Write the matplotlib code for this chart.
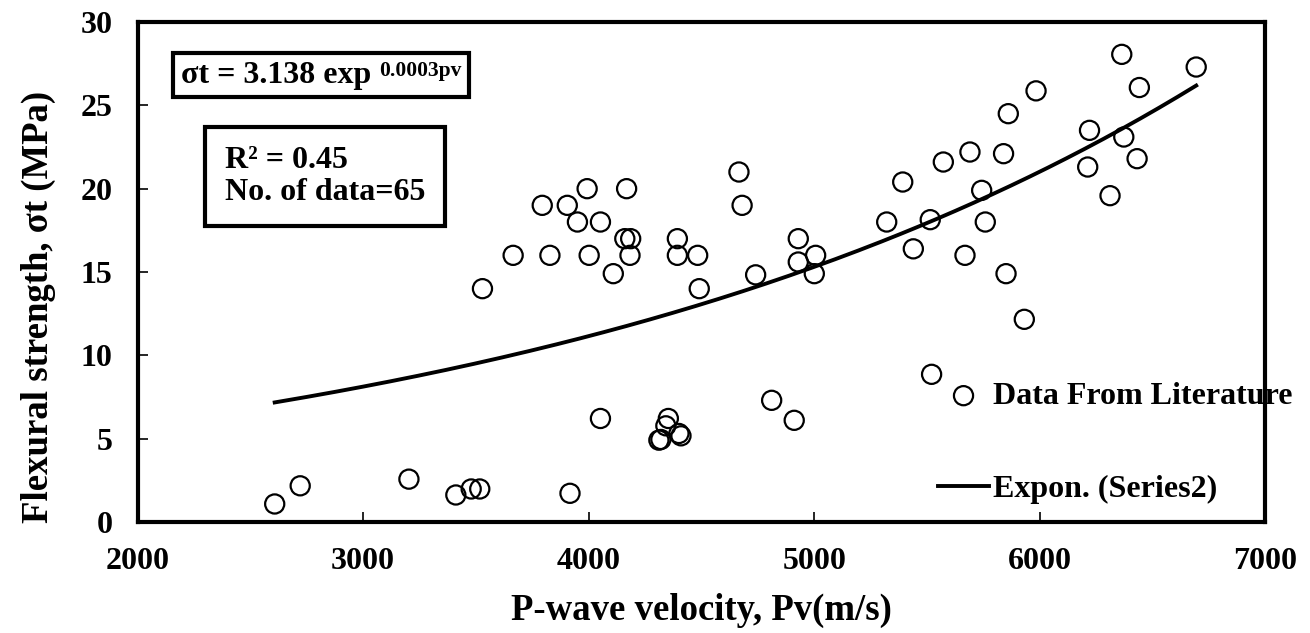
import numpy as np
import matplotlib
matplotlib.use("Agg")
import matplotlib.pyplot as plt
from matplotlib.offsetbox import TextArea, HPacker, AnchoredOffsetbox

# datos
pv = [2608, 2721, 3203, 3411, 3479, 3517, 3529,
      4109, 4490, 4740, 5000, 4052, 4353, 4342, 4400, 4409, 4311, 4320, 4811, 4911, 3917,
      5850, 5931, 5520,
      4666, 4680, 3993, 4168, 3794, 3905, 3950, 4052, 4160, 4186, 4393, 4929,
      3665, 3828, 4002, 4183, 4393, 4483, 5006, 4929, 5321,
      6363, 6693, 6441, 5983, 5860, 6220, 6372, 5690, 5839, 5572, 6431, 6212,
      5392, 5742, 6311, 5514, 5758, 5439, 5668]
sigma_t = [1.08, 2.17, 2.57, 1.62, 1.98, 1.98, 14.0,
           14.9, 14.0, 14.83, 14.9, 6.21, 6.21, 5.77, 5.31, 5.17, 4.91, 4.95, 7.3, 6.1, 1.72,
           14.9, 12.16, 8.86,
           21.0, 19.0, 20.0, 20.0, 19.0, 19.0, 18.0, 18.0, 17.0, 17.0, 17.0, 17.0,
           16.0, 16.0, 16.0, 16.0, 16.0, 16.0, 16.0, 15.6, 18.0,
           28.06, 27.3, 26.07, 25.87, 24.5, 23.5, 23.1, 22.2, 22.1, 21.6, 21.8, 21.3,
           20.4, 19.9, 19.58, 18.14, 18.0, 16.39, 16.0]

x_ticks = [2000, 3000, 4000, 5000, 6000, 7000]
y_ticks = [0, 5, 10, 15, 20, 25, 30]

# coeficientes de la línea de tendencia (σt = a·exp(b·pv))
trend_a = 3.138
trend_b = 0.000317

plt.rcParams['font.family'] = ['Liberation Serif', 'DejaVu Serif']
plt.rcParams['font.weight'] = 'bold'

x = np.array(pv, dtype=float)
y = np.array(sigma_t, dtype=float)

x_fit = np.linspace(x.min(), x.max(), 200)
y_fit = trend_a * np.exp(trend_b * x_fit)

fig = plt.figure(figsize=(13.1, 6.33), dpi=100)
ax = fig.add_axes([0.105, 0.1754, 0.861, 0.7898])

sc = ax.scatter(x, y, s=190, facecolors='none', edgecolors='black', linewidths=1.6,
                label='Data From Literature', zorder=3)
ln, = ax.plot(x_fit, y_fit, color='black', linewidth=2.8, label='Expon. (Series2)', zorder=2)

ax.set_xlim(2000, 7000)
ax.set_ylim(0, 30)
ax.set_xticks(x_ticks)
ax.set_yticks(y_ticks)
ax.tick_params(direction='in', length=7, width=1.2, labelsize=23, pad=18,
               top=False, right=False)
for s in ax.spines.values():
    s.set_linewidth(3)

ax.set_xlabel('P-wave velocity, Pv(m/s)', fontsize=26.5, fontweight='bold', labelpad=12)
ax.set_ylabel('Flexural strength, σt (MPa)', fontsize=26.5, fontweight='bold')
ax.yaxis.set_label_coords(-0.072, 0.43)

# caja con la ecuación
t1 = TextArea('σt = 3.138 exp ', textprops=dict(fontsize=23, fontweight='bold'))
t2 = TextArea('0.0003pv', textprops=dict(fontsize=15.5, fontweight='bold'))
pack = HPacker(children=[t1, t2], align='top', pad=0, sep=0)
eq_box = AnchoredOffsetbox(loc='upper left', child=pack, pad=0.55, borderpad=0,
                           frameon=True, bbox_to_anchor=(0.0315, 0.938),
                           bbox_transform=ax.transAxes, prop=dict(size=10))
eq_box.patch.set_boxstyle('square,pad=0')
eq_box.patch.set_linewidth(3)
ax.add_artist(eq_box)

# caja con R² y número de datos
ax.text(0.0776, 0.691, 'R² = 0.45\nNo. of data=65', transform=ax.transAxes,
        fontsize=23, fontweight='bold', ha='left', va='center', linespacing=1.1,
        bbox=dict(boxstyle='square,pad=0.62', facecolor='white', edgecolor='black', linewidth=3))

leg = ax.legend(handles=[sc, ln], loc='upper left', bbox_to_anchor=(0.716, 0.397),
                bbox_transform=fig.transFigure, frameon=False,
                borderpad=0, borderaxespad=0, handlelength=1.6, handletextpad=0.12,
                labelspacing=2.0, prop=dict(size=23, weight='bold'))

plt.savefig('out.png', dpi=100)
